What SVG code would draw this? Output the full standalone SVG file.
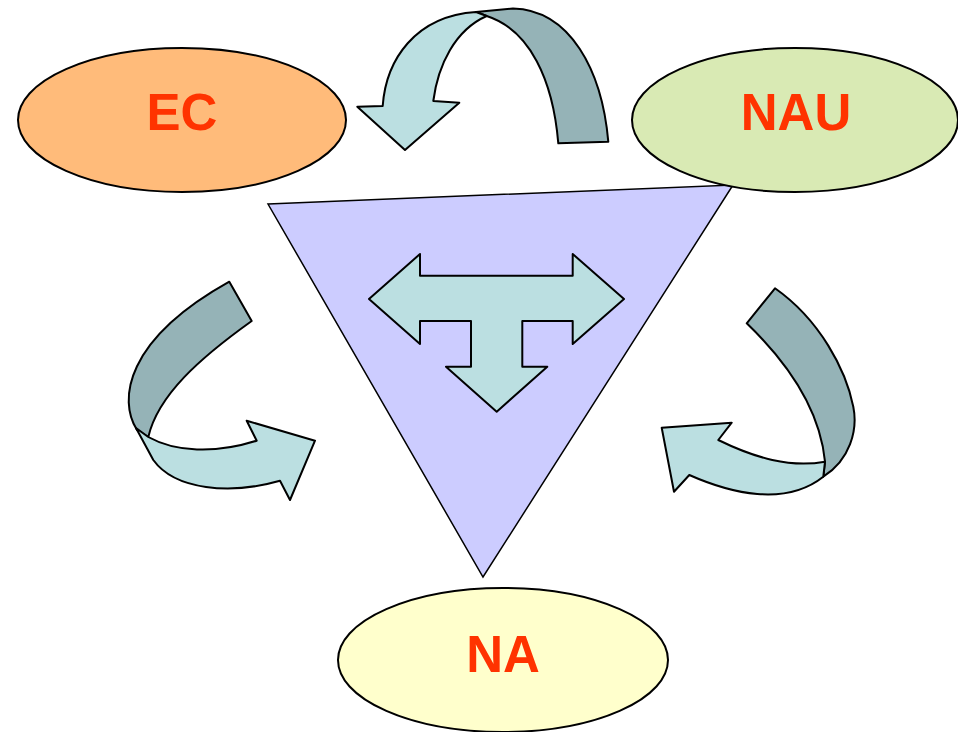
<svg xmlns="http://www.w3.org/2000/svg" width="958" height="732" viewBox="0 0 958 732">
<style>
.e{stroke:#000;stroke-width:2}
.lbl{font-family:"Liberation Sans",Arial,sans-serif;font-weight:bold;font-size:51px;fill:#FF3300;text-anchor:middle}
.lt{fill:#BBDFE1;stroke:#000;stroke-width:2;stroke-linejoin:round}
.dk{fill:#95B3B7;stroke:#000;stroke-width:2;stroke-linejoin:round}
</style>
<rect width="958" height="732" fill="#fff"/>
<g id="triangle">
<polygon points="268,204 733,185 483,577" fill="#CCCCFF" stroke="#000" stroke-width="1.5"/>
<polygon class="lt" points="369,299 420,254 420,275.7 572.7,275.7 572.7,254 624,299 572.7,344 572.7,321 522.3,321 522.3,366.7 547.3,366.7 496.7,411.7 446,366.7 471,366.7 471,321 420,321 420,344"/>
</g>
<g id="EC">
<ellipse class="e" cx="182" cy="120" rx="164" ry="72" fill="#FFBB7A"/>
<text class="lbl" x="182" y="130">EC</text>
</g>
<g id="NAU">
<ellipse class="e" cx="795" cy="120" rx="163" ry="72" fill="#D9EAB4"/>
<text class="lbl" x="796" y="130">NAU</text>
</g>
<g id="NA">
<ellipse class="e" cx="503" cy="660" rx="165" ry="72" fill="#FFFFCC"/>
<text class="lbl" x="503" y="672">NA</text>
</g>
<g id="connectors">
<path class="dk" d="M476,12 L513,8.5 C570,10 602,70 608.3,141.7 L558.3,143.3 C553,80 530,30 486.7,16 Z"/>
<path class="lt" d="M382.7,106 C386,60 415,16 476,12 L486.7,16 C455,30 438,65 433.3,101 L459.3,102.7 L405,150 L357.3,106.7 Z"/>
<path class="dk" d="M229.3,281.7 L251.7,321 C200,358 158,395 148.3,437 L137,430 C118,400 125,340 229.3,281.7 Z"/>
<path class="lt" d="M136,428 L148.3,437 C175,452 215,454 256.7,440.7 L246.7,420.7 L315,440.7 L290,500 L280,480.7 C230,495 175,490 153.3,460 Z"/>
<path class="dk" d="M775,288.3 L746.7,323.3 C790,365 820,410 825,461.7 L823.3,476.7 C850,460 858,430 853.3,406.7 C846,370 820,320 775,288.3 Z"/>
<path class="lt" d="M825,461.7 C790,468 755,458 718.3,440 L731.7,422.7 L661.7,427.7 L674,491.7 L689.3,475 C730,493 785,507 823.3,476.7 Z"/>
</g>
</svg>
